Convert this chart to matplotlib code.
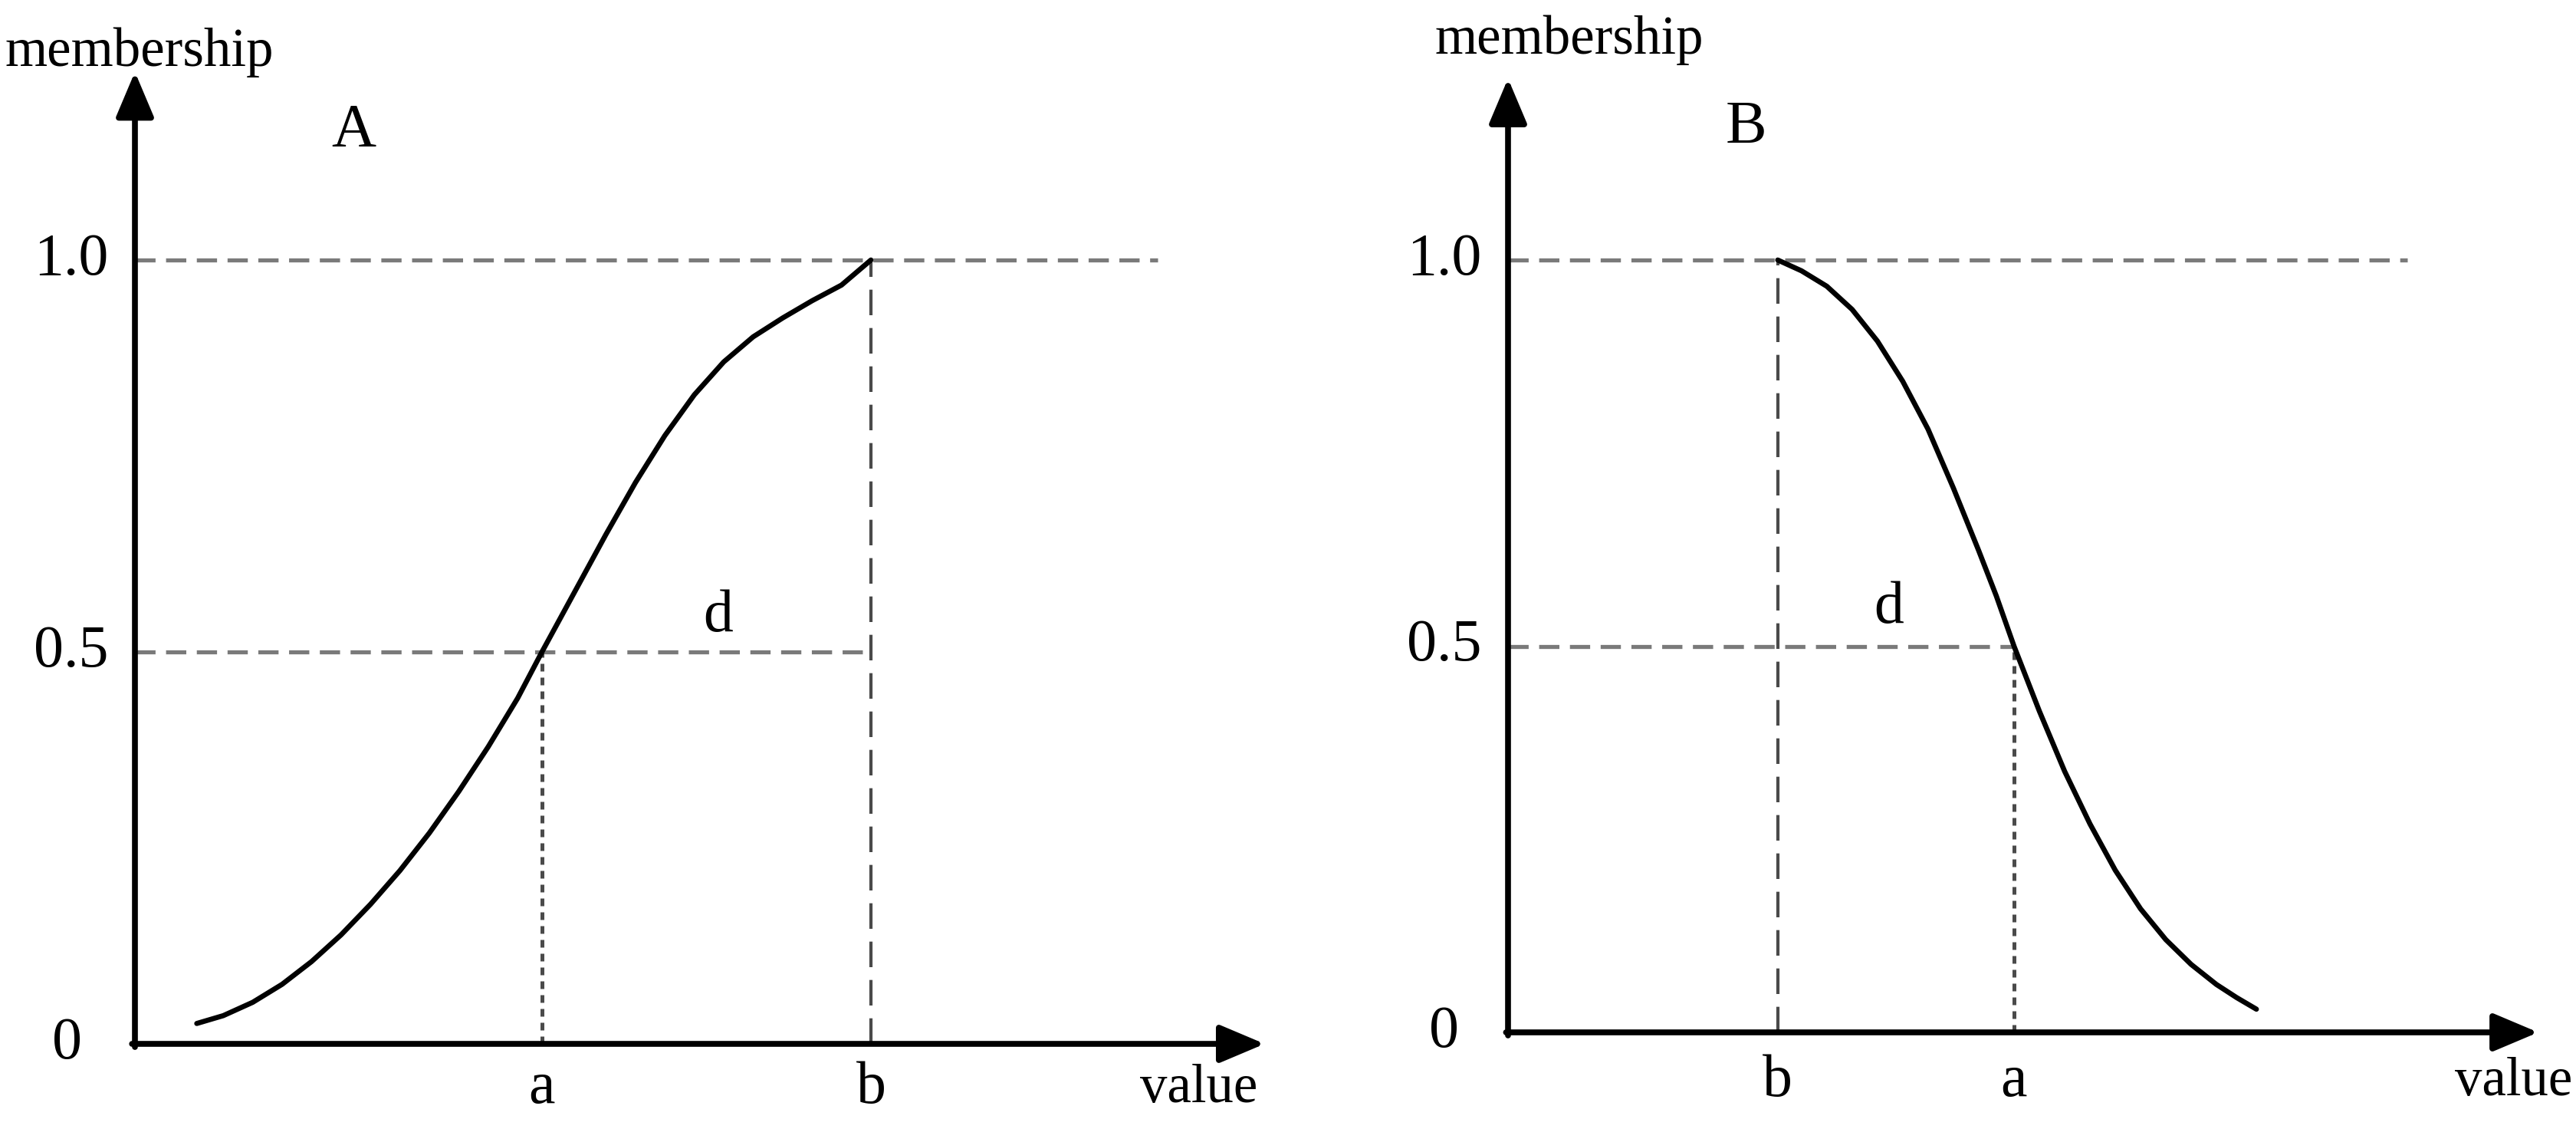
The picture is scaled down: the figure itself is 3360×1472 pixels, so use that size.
import matplotlib.pyplot as plt

plt.rcParams['font.family'] = ['Liberation Serif', 'DejaVu Serif']

# panel A: rising membership curve (x scaled so that b = 1)
curve_a_x = [0.084, 0.12, 0.16, 0.20, 0.24, 0.28, 0.32, 0.36, 0.40, 0.44, 0.48, 0.52, 0.553,
             0.60, 0.64, 0.68, 0.72, 0.76, 0.80, 0.84, 0.88, 0.92, 0.96, 1.0]
curve_a_y = [0.026, 0.036, 0.053, 0.076, 0.105, 0.139, 0.178, 0.221, 0.269, 0.322, 0.379, 0.441, 0.500,
             0.581, 0.650, 0.716, 0.776, 0.828, 0.870, 0.902, 0.926, 0.948, 0.968, 1.0]
a_pos_A = 0.553
b_pos_A = 1.0

# panel B: falling membership curve (x scaled so that a = 1)
curve_b_x = [0.533, 0.58, 0.63, 0.68, 0.73, 0.78, 0.83, 0.88, 0.93, 0.965, 1.0,
             1.05, 1.10, 1.15, 1.20, 1.25, 1.30, 1.35, 1.40, 1.44, 1.479]
curve_b_y = [1.0, 0.986, 0.966, 0.936, 0.895, 0.843, 0.781, 0.705, 0.624, 0.565, 0.500,
             0.416, 0.338, 0.270, 0.210, 0.160, 0.120, 0.088, 0.062, 0.045, 0.030]
a_pos_B = 1.0
b_pos_B = 0.533

ytick_vals = [0, 0.5, 1.0]
ytick_labels = ['0', '0.5', '1.0']

W, H = 3360, 1472
fig = plt.figure(figsize=(W / 100, H / 100), dpi=100)

GRAY = '#7a7a7a'
DARK = '#4a4a4a'
FS = 56


def panel(rect, cx, cy, a_pos, b_pos, letter, letter_xy, memb_xy, d_xy,
          line1_end, xtip, ytip, lab_x, zero_x, xlab_y, value_x, half_end):
    ax = fig.add_axes(rect)
    ax.set_xlim(0, 1)
    ax.set_ylim(0, 1)
    ax.axis('off')
    kw = dict(clip_on=False)
    # reference lines
    ax.plot([0, line1_end], [1, 1], color=GRAY, lw=3.8, dashes=(5, 2.6), **kw)
    ax.plot([0, half_end], [0.5, 0.5], color=GRAY, lw=3.8, dashes=(5, 2.6), **kw)
    ax.plot([b_pos, b_pos], [0, 1], color=DARK, lw=3.0, dashes=(8, 4), **kw)
    ax.plot([a_pos, a_pos], [0, 0.5], color=DARK, lw=3.6, dashes=(2, 1.6), **kw)
    # curve
    ax.plot(cx, cy, color='black', lw=4.8, solid_capstyle='round',
            solid_joinstyle='round', **kw)
    # axes with arrows
    arr = dict(arrowstyle='-|>,head_length=0.9,head_width=0.38', lw=5.5, color='black',
               mutation_scale=40, shrinkA=0, shrinkB=0)
    ax.annotate('', xy=(xtip, 0), xytext=(-0.004, 0), arrowprops=arr, annotation_clip=False)
    ax.annotate('', xy=(0, ytip), xytext=(0, -0.004), arrowprops=arr, annotation_clip=False)
    # texts
    for v, t in zip(ytick_vals, ytick_labels):
        xx = zero_x if t == '0' else lab_x
        ax.text(xx, v, t, ha='right', va='center', fontsize=FS, **kw)
    ax.text(a_pos, xlab_y, 'a', ha='center', va='center', fontsize=FS, **kw)
    ax.text(b_pos, xlab_y, 'b', ha='center', va='center', fontsize=FS, **kw)
    ax.text(value_x, xlab_y, 'value', ha='center', va='center', fontsize=51, **kw)
    ax.text(memb_xy[0], memb_xy[1], 'membership', ha='center', va='center', fontsize=51, **kw)
    ax.text(letter_xy[0], letter_xy[1], letter, ha='center', va='center', fontsize=FS + 2, **kw)
    ax.text(d_xy[0], d_xy[1], 'd', ha='center', va='center', fontsize=FS, **kw)
    return ax


panel([176 / W, (H - 1361) / H, 960 / W, 1022 / H], curve_a_x, curve_a_y,
      a_pos_A, b_pos_A, 'A', (0.297, 1.164), (0.006, 1.265), (0.792, 0.545),
      line1_end=1.39, xtip=1.535, ytip=1.24, lab_x=-0.036, zero_x=-0.072,
      xlab_y=-0.057, value_x=1.446, half_end=b_pos_A)

panel([1967 / W, (H - 1346) / H, 660 / W, 1007 / H], curve_b_x, curve_b_y,
      a_pos_B, b_pos_B, 'B', (0.471, 1.17), (0.121, 1.285), (0.753, 0.549),
      line1_end=1.777, xtip=2.036, ytip=1.235, lab_x=-0.052, zero_x=-0.097,
      xlab_y=-0.064, value_x=1.988, half_end=a_pos_B)

fig.savefig('out.png', dpi=100, facecolor='white')
